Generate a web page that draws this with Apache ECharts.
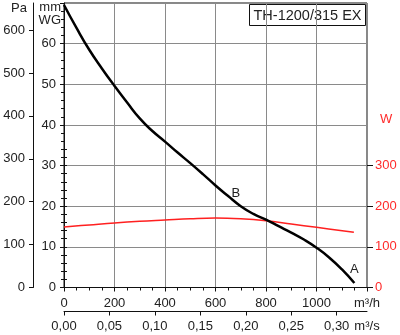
<!DOCTYPE html>
<html>
<head>
<meta charset="utf-8">
<script src="https://cdn.jsdelivr.net/npm/echarts@6/dist/echarts.min.js"></script>
<style>
  html, body { margin: 0; padding: 0; background: #fff; }
  #chart { width: 400px; height: 335px; }
</style>
</head>
<body>
<div id="chart"></div>
<script>
// Fan curve TH-1200/315 EX: static pressure and power input vs. airflow
const modelName = 'TH-1200/315 EX';

// airflow in m³/h, static pressure in mm WG
const pressureCurve = [
  [0, 69.5], [50, 63.8], [100, 58.5], [150, 53.9], [200, 49.6], [250, 45.5],
  [300, 41.6], [350, 38.5], [400, 35.9], [450, 33.2], [500, 30.6], [550, 27.9],
  [600, 25.1], [650, 22.5], [700, 20.0], [750, 18.1], [800, 16.7], [850, 15.1],
  [900, 13.5], [950, 11.8], [1000, 9.8], [1050, 7.4], [1100, 4.5], [1150, 1.1]
];

// airflow in m³/h, power input in W
const powerCurve = [
  [0, 149], [100, 154], [200, 159], [300, 163], [400, 166], [500, 169],
  [600, 171], [700, 169], [800, 164], [900, 156], [1000, 148], [1148, 136]
];

// operating range end points
const pointLabels = [
  { name: 'B', coord: [681, 23.2] },
  { name: 'A', coord: [1150, 4.4] }
];

const flowSecTicks = [0, 0.05, 0.10, 0.15, 0.20, 0.25, 0.30];
const paTicks = [0, 100, 200, 300, 400, 500, 600];
const wattTicks = [0, 100, 200, 300];

const FLOW_MAX = 1200;
const MM_MAX = 70;
const PA_MAX = 663;
const W_MAX = 340;

const font = '"Liberation Sans", Arial, sans-serif';
const txt = '#222';
const gridColor = '#8a8a8a';

const chart = echarts.init(document.getElementById('chart'), null, { renderer: 'canvas' });

const plotTop = 3, plotBottom = 47.5;
const plotH = 335 - plotTop - plotBottom;
const wTop = plotTop + plotH * (1 - W_MAX / (MM_MAX * 10));

const baseLabel = { color: txt, fontFamily: font, fontSize: 13 };

chart.setOption({
  animation: false,
  backgroundColor: '#fff',
  grid: [
    { left: 64, right: 33, top: plotTop, bottom: plotBottom, show: true,
      borderColor: '#111', borderWidth: 1, backgroundColor: 'transparent' },
    { left: 64, right: 33, top: wTop, bottom: plotBottom }
  ],
  xAxis: [
    {
      gridIndex: 0, type: 'value', min: 0, max: FLOW_MAX, interval: 200,
      axisLine: { show: true, onZero: false, lineStyle: { color: '#111' } },
      axisTick: { show: true, length: 4, lineStyle: { color: '#111' } },
      minorTick: { show: true, splitNumber: 4, length: 3, lineStyle: { color: '#111' } },
      splitLine: { show: true, lineStyle: { color: gridColor, width: 1 } },
      axisLabel: Object.assign({}, baseLabel, {
        margin: 9, showMaxLabel: true,
        formatter: v => (v === FLOW_MAX ? 'm³/h' : String(v))
      })
    },
    {
      gridIndex: 0, type: 'value', position: 'bottom', offset: 24,
      min: 0, max: FLOW_MAX / 3600,
      axisLine: { show: true, onZero: false, lineStyle: { color: '#111' } },
      axisTick: { show: true, length: 4, customValues: flowSecTicks, lineStyle: { color: '#111' } },
      splitLine: { show: false },
      axisLabel: Object.assign({}, baseLabel, {
        margin: 8,
        customValues: flowSecTicks.concat([FLOW_MAX / 3600]),
        formatter: v => (v > 0.32 ? 'm³/s' : v.toFixed(2).replace('.', ','))
      })
    },
    {
      gridIndex: 1, type: 'value', min: 0, max: FLOW_MAX, show: false
    }
  ],
  yAxis: [
    {
      gridIndex: 0, type: 'value', position: 'left', min: 0, max: MM_MAX, interval: 10,
      axisLine: { show: true, onZero: false, lineStyle: { color: '#111' } },
      axisTick: { show: true, length: 4, lineStyle: { color: '#111' } },
      minorTick: { show: true, splitNumber: 5, length: 3, lineStyle: { color: '#111' } },
      splitLine: { show: true, lineStyle: { color: gridColor, width: 1 } },
      axisLabel: Object.assign({}, baseLabel, {
        margin: 8,
        formatter: v => (v >= MM_MAX ? '' : String(v))
      })
    },
    {
      gridIndex: 0, type: 'value', position: 'left', offset: 31, min: 0, max: PA_MAX,
      axisLine: { show: true, onZero: false, lineStyle: { color: '#111' } },
      axisTick: { show: true, length: 4, customValues: paTicks, lineStyle: { color: '#111' } },
      splitLine: { show: false },
      axisLabel: Object.assign({}, baseLabel, { margin: 8, customValues: paTicks })
    },
    {
      // fine tick marks of the power scale
      gridIndex: 1, type: 'value', position: 'right', min: 0, max: W_MAX, interval: 20,
      axisLine: { show: false },
      axisTick: { show: true, length: 3, lineStyle: { color: '#111' } },
      splitLine: { show: false },
      axisLabel: { show: false }
    },
    {
      gridIndex: 1, type: 'value', position: 'right', min: 0, max: W_MAX,
      axisLine: { show: false },
      axisTick: { show: true, length: 6, customValues: wattTicks, lineStyle: { color: '#111' } },
      splitLine: { show: false },
      axisLabel: Object.assign({}, baseLabel, {
        color: '#ff2a2a', margin: 8, customValues: wattTicks
      })
    }
  ],
  series: [
    {
      type: 'line', xAxisIndex: 2, yAxisIndex: 3, data: powerCurve,
      smooth: 0.4, symbol: 'none',
      lineStyle: { color: '#ff2020', width: 1.5 }
    },
    {
      type: 'line', xAxisIndex: 0, yAxisIndex: 0, data: pressureCurve,
      smooth: 0.5, symbol: 'none',
      lineStyle: { color: '#000', width: 2.5 },
      markPoint: {
        symbol: 'circle', symbolSize: 0,
        label: { show: true, position: 'inside', color: txt, fontFamily: font, fontSize: 13,
                 formatter: p => p.name },
        data: pointLabels
      }
    }
  ],
  graphic: [
    { type: 'text', left: 11, top: 2, style: { text: 'Pa', fill: txt, font: '13px ' + font } },
    { type: 'text', right: 400 - 61, top: 1, style: { text: 'mm', fill: txt, font: '13px ' + font, textAlign: 'right' } },
    { type: 'text', right: 400 - 61, top: 14, style: { text: 'WG', fill: txt, font: '13px ' + font, textAlign: 'right' } },
    { type: 'text', left: 380, top: 113, style: { text: 'W', fill: '#ff2a2a', font: '13px ' + font } },
    {
      type: 'group', right: 34, top: 4,
      children: [
        { type: 'rect', shape: { x: 0, y: 0, width: 116, height: 21 },
          style: { fill: '#fff', stroke: '#111', lineWidth: 1 } },
        { type: 'text', x: 58, y: 11,
          style: { text: modelName, fill: txt, font: '14.5px ' + font,
                   textAlign: 'center', textVerticalAlign: 'middle' } }
      ]
    }
  ]
});
</script>
</body>
</html>
